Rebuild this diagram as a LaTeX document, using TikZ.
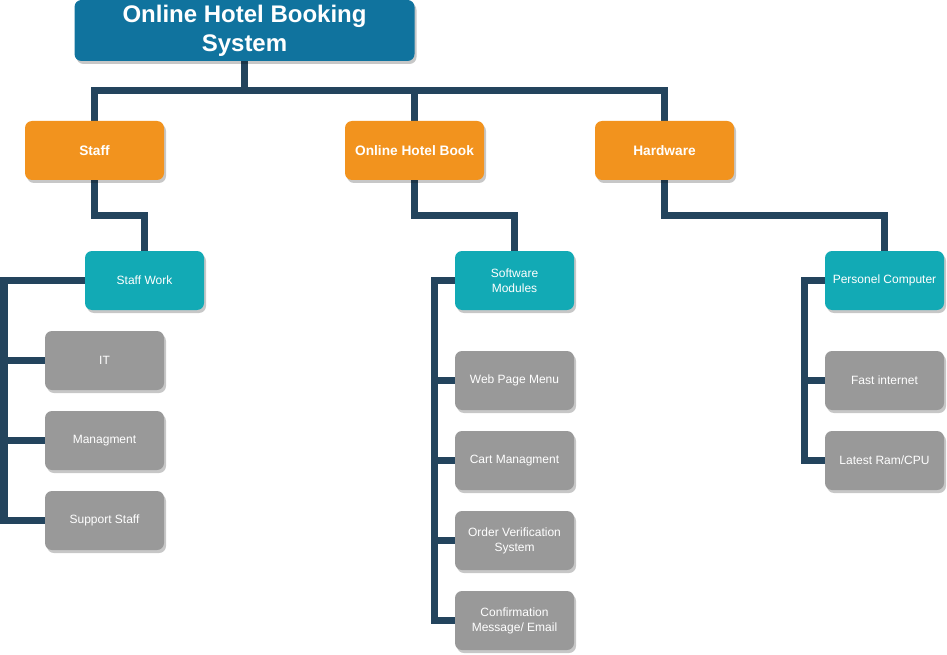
\documentclass[tikz,border=0pt]{standalone}
\usepackage{fontspec}
\setmainfont{Liberation Sans}
\usetikzlibrary{shadows,backgrounds}
\definecolor{topc}{HTML}{10739E}
\definecolor{orc}{HTML}{F2931E}
\definecolor{tealc}{HTML}{12AAB5}
\definecolor{grc}{HTML}{999999}
\definecolor{linec}{HTML}{23445D}
\tikzset{
  box/.style={rounded corners=7pt, text=white, align=center, inner sep=0pt,
    drop shadow={shadow xshift=2pt, shadow yshift=-3pt, fill=black, opacity=0.22}},
  topbox/.style={box, fill=topc, minimum width=340pt, minimum height=61pt, font=\fontsize{24}{29}\selectfont\bfseries},
  orbox/.style={box, fill=orc, minimum width=139pt, minimum height=59pt, font=\fontsize{13.7}{16}\selectfont\bfseries},
  tbox/.style={box, fill=tealc, minimum width=119pt, minimum height=59pt, font=\fontsize{12}{15}\selectfont},
  gbox/.style={box, fill=grc, minimum width=119pt, minimum height=59pt, font=\fontsize{12}{15}\selectfont},
  conn/.style={draw=linec, line width=7pt, line join=miter}
}
\begin{document}
\begin{tikzpicture}[x=1pt,y=-1pt]
\useasboundingbox (0,0) rectangle (947,655);
\node[topbox] (top) at (244.5,30.5) {Online Hotel Booking\\System};
\node[orbox] (staff) at (94.5,150.5) {Staff};
\node[orbox] (ohb) at (414.5,150.5) {Online Hotel Book};
\node[orbox] (hw) at (664.5,150.5) {Hardware};
\node[tbox] (sw) at (144.5,280.5) {Staff Work};
\node[tbox] (sm) at (514.5,280.5) {Software\\Modules};
\node[tbox] (pc) at (884.5,280.5) {Personel Computer};
\node[gbox] (it) at (104.5,360.5) {IT};
\node[gbox] (man) at (104.5,440.5) {Managment};
\node[gbox] (sup) at (104.5,520.5) {Support Staff};
\node[gbox] (web) at (514.5,380.5) {Web Page Menu};
\node[gbox] (cart) at (514.5,460.5) {Cart Managment};
\node[gbox] (ord) at (514.5,540.5) {Order Verification\\System};
\node[gbox] (conf) at (514.5,620.5) {Confirmation\\Message/ Email};
\node[gbox] (fast) at (884.5,380.5) {Fast internet};
\node[gbox] (ram) at (884.5,460.5) {Latest Ram/CPU};
\begin{scope}[on background layer]
\draw[conn] (top.south) -- (top.south |- 0,91);
\draw[conn] (staff.north) -- (staff.north |- 0,91) -- (hw.north |- 0,91) -- (hw.north);
\draw[conn] (ohb.north) -- (ohb.north |- 0,91);
\draw[conn] (staff.south) -- (staff.south |- 0,215) -| (sw.north);
\draw[conn] (ohb.south) -- (ohb.south |- 0,215) -| (sm.north);
\draw[conn] (hw.south) -- (hw.south |- 0,215) -| (pc.north);
\draw[conn] (sw.west) -- (sw.west -| 4,0) |- (sup.west);
\draw[conn] (it.west) -- (it.west -| 4,0);
\draw[conn] (man.west) -- (man.west -| 4,0);
\draw[conn] (sm.west) -- (sm.west -| 434,0) |- (conf.west);
\draw[conn] (web.west) -- (web.west -| 434,0);
\draw[conn] (cart.west) -- (cart.west -| 434,0);
\draw[conn] (ord.west) -- (ord.west -| 434,0);
\draw[conn] (pc.west) -- (pc.west -| 804,0) |- (ram.west);
\draw[conn] (fast.west) -- (fast.west -| 804,0);
\end{scope}
\end{tikzpicture}
\end{document}
